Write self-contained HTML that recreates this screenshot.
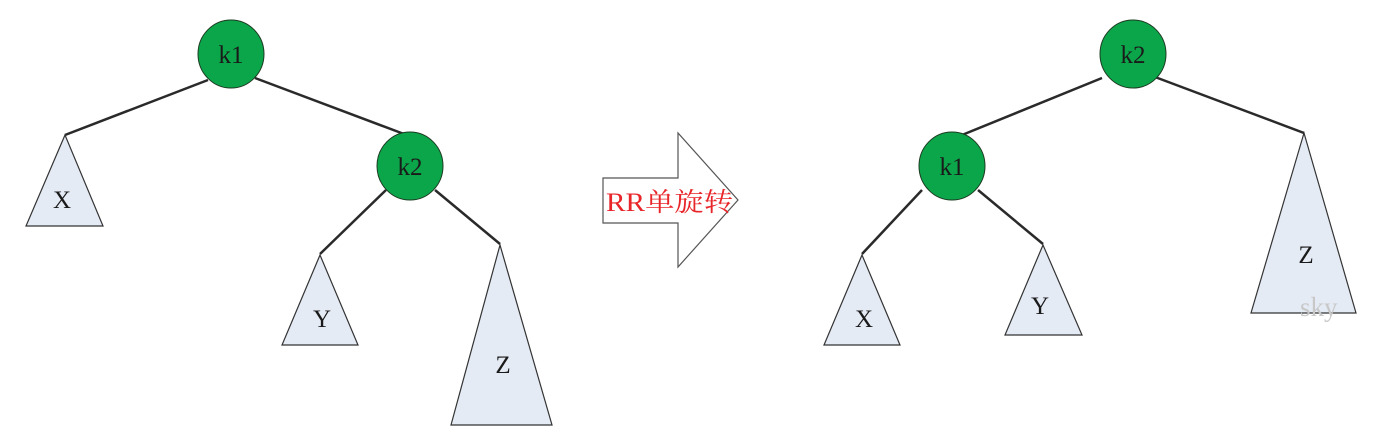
<!DOCTYPE html>
<html><head><meta charset="utf-8"><style>
html,body{margin:0;padding:0;background:#fff;width:1376px;height:437px;overflow:hidden}
svg{display:block}
text{font-family:"Liberation Serif","Noto Serif CJK SC",serif}
</style></head><body>
<svg width="1376" height="437" viewBox="0 0 1376 437">
<g stroke="#2a2a2a" stroke-width="2.5">
  <line x1="208" y1="80" x2="65" y2="135"/>
  <line x1="255" y1="78" x2="404" y2="134"/>
  <line x1="386" y1="190" x2="320" y2="254"/>
  <line x1="435" y1="190" x2="500" y2="244"/>
</g>
<g stroke="#333" stroke-width="1.2" fill="#e5ebf5">
  <polygon points="65,135 26,226 103,226"/>
  <polygon points="320,255 282,345 358,345"/>
  <polygon points="500,245 451,425 552,425"/>
  <polygon points="862,255 824,345 900,345"/>
  <polygon points="1043,245 1005,335 1082,335"/>
  <polygon points="1304,133 1251,313 1356,313"/>
</g>
<g stroke="#2a2a2a" stroke-width="2.5">
  <line x1="1102" y1="78" x2="962" y2="135"/>
  <line x1="1155" y1="77" x2="1304" y2="133"/>
  <line x1="922" y1="190" x2="862" y2="254"/>
  <line x1="978" y1="190" x2="1043" y2="244"/>
</g>
<g fill="#0ba64a" stroke="#1d3b22" stroke-width="1">
  <ellipse cx="231" cy="54" rx="33" ry="34"/>
  <ellipse cx="410" cy="166" rx="33" ry="34"/>
  <ellipse cx="1133" cy="54" rx="33" ry="34"/>
  <ellipse cx="952" cy="166" rx="33" ry="34"/>
</g>
<g font-size="25" fill="#1a1a1a" text-anchor="middle">
  <text x="231" y="63">k1</text>
  <text x="410" y="175">k2</text>
  <text x="1133" y="63">k2</text>
  <text x="952" y="175">k1</text>
  <text x="62" y="208">X</text>
  <text x="322" y="327">Y</text>
  <text x="503" y="373">Z</text>
  <text x="864" y="327">X</text>
  <text x="1040" y="314">Y</text>
  <text x="1306" y="263">Z</text>
</g>
<text x="1300" y="316" font-size="27" fill="#c8c8c8">sky</text>
<polygon points="603,178 678,178 678,133 738,200 678,267 678,223 603,223" fill="#fff" stroke="#555" stroke-width="1.2"/>
<text x="606" y="211" font-size="26" textLength="127" lengthAdjust="spacingAndGlyphs" fill="#e8262a">RR单旋转</text>
</svg>
</body></html>
